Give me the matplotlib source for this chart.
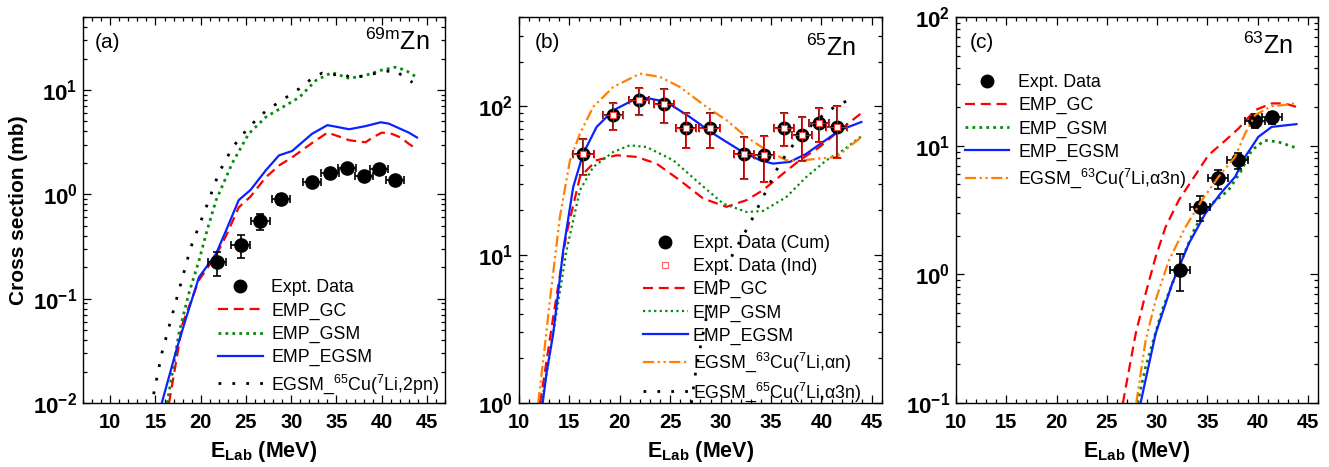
import numpy as np
import matplotlib
matplotlib.use("Agg")
import matplotlib.pyplot as plt
from matplotlib.lines import Line2D
from matplotlib.ticker import FuncFormatter, MultipleLocator

plt.rcParams["font.family"] = ["Liberation Sans", "DejaVu Sans"]
plt.rcParams["mathtext.fontset"] = "custom"
plt.rcParams["mathtext.rm"] = "Liberation Sans"
plt.rcParams["mathtext.it"] = "Liberation Sans:italic"
plt.rcParams["mathtext.bf"] = "Liberation Sans:bold"
plt.rcParams["mathtext.sf"] = "Liberation Sans"

# ---- panel (a): 69mZn ----
E_a = [21.8, 24.4, 26.6, 28.9, 32.3, 34.3, 36.2, 38.0, 39.7, 41.5]
xs_a = [0.224, 0.325, 0.55, 0.895, 1.30, 1.59, 1.77, 1.49, 1.73, 1.36]
err_a = [0.058, 0.08, 0.10, 0.11, 0.12, 0.14, 0.15, 0.13, 0.15, 0.12]

gc_a_E = [16.5, 18.0, 19.8, 21.7, 22.8, 24.2, 25.5, 27.2, 28.7, 30.1, 32.3, 34.0,
          35.2, 36.4, 38.2, 39.0, 40.0, 41.1, 42.1, 43.0, 43.9]
gc_a_y = [0.01, 0.058, 0.15, 0.26, 0.40, 0.75, 0.95, 1.46, 1.9, 2.26, 3.1, 3.9,
          3.6, 3.3, 3.15, 3.5, 3.9, 3.8, 3.5, 3.04, 2.7]
gsm_a_E = [16.3, 17.6, 18.7, 19.8, 20.7, 21.7, 23.5, 25.3, 27.2, 29.0, 30.9, 32.7,
           34.5, 36.4, 38.2, 40.0, 41.5, 42.6, 43.9]
gsm_a_y = [0.01, 0.047, 0.113, 0.23, 0.45, 0.88, 2.0, 3.8, 5.5, 6.8, 8.5, 12.3,
           14.7, 12.9, 13.8, 15.5, 16.5, 15.5, 13.2]
egsm_a_E = [15.7, 17.3, 18.4, 19.8, 21.7, 22.8, 24.2, 25.5, 27.2, 28.65, 30.1, 32.3,
            34.0, 35.2, 36.4, 38.2, 39.9, 40.8, 41.9, 43.0, 43.9]
egsm_a_y = [0.01, 0.032, 0.066, 0.16, 0.27, 0.45, 0.88, 1.1, 1.7, 2.36, 2.6, 3.8,
            4.6, 4.4, 4.2, 4.5, 4.9, 4.75, 4.3, 3.9, 3.5]
alt_a_E = [14.5, 14.75, 15.7, 17.3, 18.9, 20.6, 22.0, 23.5, 25.3, 27.2, 29.0, 30.9,
           32.3, 33.4, 34.5, 35.6, 36.7, 38.2, 40.0, 41.5, 42.2, 43.4]
alt_a_y = [0.009, 0.0116, 0.030, 0.097, 0.31, 0.75, 1.6, 2.8, 4.4, 6.3, 8.0, 10.3,
           12.9, 14.5, 13.8, 14.5, 12.9, 13.8, 14.8, 15.5, 13.8, 11.8]

# ---- panel (b): 65Zn ----
E_b = [16.4, 19.3, 21.9, 24.4, 26.6, 28.9, 32.3, 34.3, 36.3, 38.1, 39.8, 41.5]
xs_b = [47.5, 87, 110, 104, 71.4, 71.4, 47.5, 46.8, 71.9, 63.8, 77.6, 72.5]
err_b = [13, 18, 22, 27, 19, 19, 15, 16, 18, 21, 20, 28]

gc_b_E = [12.1, 13.4, 14.72, 16.05, 17.7, 19.68, 21.66, 23.64, 25.96, 28.27, 30.58,
          32.57, 34.2, 36.2, 37.85, 39.83, 41.8, 43.96]
gc_b_y = [1.0, 3.81, 13.9, 33.4, 43.3, 46.8, 45.6, 41.1, 31.7, 23.9, 21.0,
          23.3, 27.2, 35.2, 43.3, 53.2, 68.9, 90]
gsm_b_E = [12.25, 13.4, 14.72, 16.05, 17.36, 19.35, 21.0, 22.66, 25.3, 27.94, 30.25,
           32.57, 34.2, 36.53, 38.5, 40.5, 42.14, 43.96]
gsm_b_y = [1.0, 2.95, 10.7, 27.2, 39, 49.2, 54.6, 53.2, 43.3, 30.1, 22.1,
           19.4, 19.7, 24.5, 33.4, 43.3, 50.6, 62.8]
egsm_b_E = [12.35, 12.74, 13.4, 14.39, 15.38, 16.37, 17.7, 19.35, 21.33, 22.66, 24.64,
            26.95, 29.26, 31.9, 33.9, 35.2, 36.86, 38.5, 40.16, 41.8, 43.96]
egsm_b_y = [1.0, 1.6, 2.95, 10.7, 28.6, 48, 72.6, 94, 110, 113.8, 107,
            84.7, 65.5, 50.6, 43.3, 41.1, 42.2, 47.9, 57.5, 68.9, 78.4]
an_b_E = [11.9, 12.5, 13.07, 14.06, 15.05, 16.05, 17.36, 19.35, 22.0, 23.97, 25.96,
          28.6, 30.6, 32.57, 34.55, 36.53, 37.85, 39.83, 41.5, 42.7, 43.96]
an_b_y = [1.0, 2.2, 4.94, 18, 43, 65.5, 99, 135, 166, 158, 135,
          99, 80.5, 62, 50.6, 43.3, 43, 44.5, 45.5, 53, 62]
a3n_b_E = [27.1, 27.6, 28.6, 29.6, 31.24, 32.9, 34.55, 35.87, 37.52, 39.5, 41.5, 43.1]
a3n_b_y = [1.0, 1.76, 3.81, 5.77, 10.2, 16.2, 27.2, 41.1, 59, 80.5, 101.6, 112.7]

# ---- panel (c): 63Zn ----
E_c = [32.3, 34.3, 36.1, 38.0, 39.7, 41.4]
xs_c = [1.09, 3.34, 5.56, 7.71, 15.6, 16.6]
err_c = [0.35, 0.75, 0.95, 1.1, 2.0, 1.8]

gc_c_E = [26.6, 27.87, 28.86, 29.85, 30.84, 32.16, 33.47, 35.1, 36.8, 38.1, 39.75,
          41.4, 42.7, 43.86]
gc_c_y = [0.1, 0.345, 0.708, 1.36, 2.33, 3.77, 5.39, 8.43, 11, 13.6, 18.9,
          21.3, 21.3, 20]
gsm_c_E = [28.06, 28.86, 30.5, 32.16, 33.8, 35.45, 37.1, 38.4, 39.4, 40.7, 42.05, 43.86]
gsm_c_y = [0.1, 0.19, 0.525, 1.14, 2.33, 3.55, 4.5, 6.45, 9.2, 11, 10.7, 9.6]
egsm_c_E = [28.36, 29.85, 31.5, 33.15, 34.8, 36.44, 37.76, 38.75, 40.07, 41.4, 43.86]
egsm_c_y = [0.1, 0.345, 0.847, 1.73, 2.97, 4.37, 5.72, 8.18, 11.7, 14, 14.7]
a3n_c_E = [27.93, 28.86, 29.85, 31.17, 32.82, 34.46, 36.11, 37.76, 38.75, 39.75,
           41.4, 42.7, 43.86]
a3n_c_y = [0.1, 0.306, 0.628, 1.28, 2.33, 3.77, 5.72, 8.18, 12.4, 17.3,
           20.3, 20.7, 21.5]

E_ERR = 1.0
LW = 1.6
RED, GREEN, BLUE, ORANGE = "#ff0000", "#0a8a0a", "#0a22ff", "#ff8000"
DASH = (4.5, 2.6)
DOT = (1, 1.5)
SPARSE = (1, 4)
DADOT = (5, 1.6, 1, 1.6, 1, 1.6)
LEG_FS = 12.8
LEG_KW = dict(loc="upper left", frameon=False, fontsize=LEG_FS, borderpad=0,
              borderaxespad=0, handlelength=2.5, labelspacing=0.34)


def style_axes(ax, xlim, ylim, xticks):
    ax.set_yscale("log")
    ax.set_xlim(*xlim)
    ax.set_ylim(*ylim)
    ax.set_xticks(xticks)
    ax.xaxis.set_minor_locator(MultipleLocator(1))
    ax.tick_params(which="both", direction="in", top=True, right=True, width=0.9)
    ax.tick_params(which="major", length=5.5)
    ax.tick_params(which="minor", length=3)
    ax.tick_params(axis="x", which="major", labelsize=14.5, pad=7)
    ax.tick_params(axis="y", which="major", labelsize=16, pad=4)
    ax.yaxis.set_major_formatter(
        FuncFormatter(lambda v, p: r"$\mathbf{10^{%d}}$" % round(np.log10(v))))
    plt.setp(ax.get_xticklabels(), fontweight="bold")
    for s in ax.spines.values():
        s.set_linewidth(1.0)
    ax.set_xlabel(r"$\mathbf{E_{Lab}}$ (MeV)", fontsize=15.5, fontweight="bold",
                  labelpad=5)


def panel_tags(ax, tag, iso, tx, zx, zy):
    ax.text(tx, 0.935, tag, transform=ax.transAxes, fontsize=15, va="center")
    ax.text(zx, zy, r"$^{\mathrm{%s}}$Zn" % iso, transform=ax.transAxes, fontsize=18,
            ha="right", va="baseline")


def expt_proxy():
    return Line2D([], [], ls="none", marker="o", color="black", ms=9)


fig = plt.figure(figsize=(13.29, 4.67), dpi=100)
ax1 = fig.add_axes([0.0625, 0.137, 0.2724, 0.8266])
ax2 = fig.add_axes([0.3905, 0.137, 0.2731, 0.8266])
ax3 = fig.add_axes([0.7193, 0.137, 0.2724, 0.8266])

# (a)
ax1.errorbar(E_a, xs_a, yerr=err_a, xerr=E_ERR, fmt="o", color="black", ms=9.5,
             ecolor="black", elinewidth=1.2, capsize=3, capthick=1.2, zorder=5)
l1, = ax1.plot(gc_a_E, gc_a_y, color=RED, lw=LW, dashes=DASH, label="EMP_GC")
l2, = ax1.plot(gsm_a_E, gsm_a_y, color=GREEN, lw=LW + 0.4, dashes=DOT, label="EMP_GSM")
l3, = ax1.plot(egsm_a_E, egsm_a_y, color=BLUE, lw=LW, label="EMP_EGSM")
l4, = ax1.plot(alt_a_E, alt_a_y, color="black", lw=LW + 0.4, dashes=SPARSE,
               label=r"EGSM_$^{65}$Cu($^{7}$Li,2pn)")
style_axes(ax1, (7, 47), (0.01, 50), [10, 15, 20, 25, 30, 35, 40, 45])
ax1.set_ylabel("Cross section (mb)", fontsize=15, fontweight="bold", labelpad=4)
ax1.legend([expt_proxy(), l1, l2, l3, l4],
           ["Expt. Data", l1.get_label(), l2.get_label(), l3.get_label(), l4.get_label()],
           bbox_to_anchor=(0.373, 0.32), handletextpad=0.5, **LEG_KW)
panel_tags(ax1, "(a)", "69m", 0.033, 0.958, 0.915)

# (b)
ax2.errorbar(E_b, xs_b, yerr=err_b, xerr=E_ERR, fmt="o", color="black", ms=9,
             ecolor="#8b1010", elinewidth=1.4, capsize=3, capthick=1.4, zorder=5)
ax2.errorbar(E_b, xs_b, yerr=err_b, xerr=E_ERR, fmt="s", mfc="white", mec="#ff4040",
             ms=4, mew=0.8, ecolor="#e02020", elinewidth=0.6, capsize=3, capthick=1.2,
             zorder=6)
m1, = ax2.plot(gc_b_E, gc_b_y, color=RED, lw=LW, dashes=DASH, label="EMP_GC")
m2, = ax2.plot(gsm_b_E, gsm_b_y, color=GREEN, lw=LW, dashes=DOT, label="EMP_GSM")
m3, = ax2.plot(egsm_b_E, egsm_b_y, color=BLUE, lw=LW, label="EMP_EGSM")
m4, = ax2.plot(an_b_E, an_b_y, color=ORANGE, lw=LW, dashes=DADOT,
               label=r"EGSM_$^{63}$Cu($^{7}$Li,αn)")
m5, = ax2.plot(a3n_b_E, a3n_b_y, color="black", lw=LW + 0.4, dashes=SPARSE,
               label=r"EGSM_$^{65}$Cu($^{7}$Li,α3n)")
style_axes(ax2, (10, 46), (1, 400), [10, 15, 20, 25, 30, 35, 40, 45])
ind_proxy = Line2D([], [], ls="none", marker="s", mfc="white", mec="#ff6060",
                   ms=5, mew=0.8)
leg = ax2.legend([expt_proxy(), ind_proxy, m1, m2, m3, m4, m5],
                 ["Expt. Data (Cum)", "Expt. Data (Ind)"] +
                 [h.get_label() for h in (m1, m2, m3, m4, m5)],
                 bbox_to_anchor=(0.342, 0.435), handletextpad=0.3, **LEG_KW)
leg.set_zorder(1)
panel_tags(ax2, "(b)", "65", 0.044, 0.93, 0.9)

# (c)
ax3.errorbar(E_c, xs_c, yerr=err_c, xerr=E_ERR, fmt="o", color="black", ms=9.5,
             ecolor="black", elinewidth=1.2, capsize=3, capthick=1.2, zorder=3)
n1, = ax3.plot(gc_c_E, gc_c_y, color=RED, lw=LW, dashes=DASH, label="EMP_GC")
n2, = ax3.plot(gsm_c_E, gsm_c_y, color=GREEN, lw=LW + 0.4, dashes=DOT, label="EMP_GSM")
n3, = ax3.plot(egsm_c_E, egsm_c_y, color=BLUE, lw=LW, label="EMP_EGSM")
n4, = ax3.plot(a3n_c_E, a3n_c_y, color=ORANGE, lw=LW, dashes=DADOT,
               label=r"EGSM_$^{63}$Cu($^{7}$Li,α3n)", zorder=4)
style_axes(ax3, (10, 46), (0.1, 100), [10, 15, 20, 25, 30, 35, 40, 45])
ax3.legend([expt_proxy(), n1, n2, n3, n4],
           ["Expt. Data"] + [h.get_label() for h in (n1, n2, n3, n4)],
           bbox_to_anchor=(0.025, 0.852), handletextpad=0.5, **LEG_KW)
panel_tags(ax3, "(c)", "63", 0.039, 0.931, 0.905)

fig.savefig("out.png", dpi=100)
